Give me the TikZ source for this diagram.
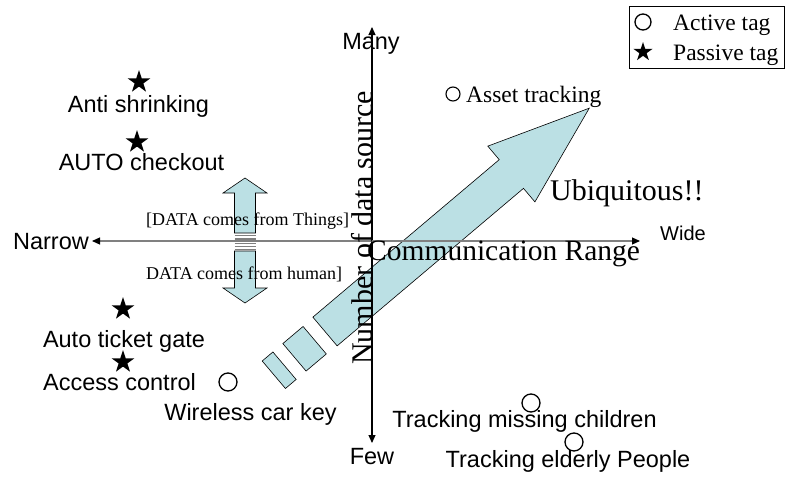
\documentclass[tikz,border=0pt]{standalone}
\usepackage{fontspec}
\setmainfont{Liberation Serif}
\newfontfamily\arialfont{Liberation Sans}
\usetikzlibrary{shapes.geometric,arrows.meta}
\definecolor{arrowfill}{RGB}{187,224,228}
\definecolor{axisgray}{RGB}{128,128,128}
\tikzset{
  sanslabel/.style={font=\arialfont\fontsize{23.5}{28}\selectfont, inner sep=0pt},
  seriflabel/.style={font=\fontsize{23.5}{28}\selectfont, inner sep=0pt},
  smallserif/.style={font=\fontsize{18}{22}\selectfont, inner sep=0pt},
  bigserif/.style={font=\fontsize{30}{36}\selectfont, inner sep=0pt},
  activetag/.style={circle, draw=black, line width=1.3pt, minimum size=18pt, inner sep=0pt},
  passivetag/.style={star, star points=5, star point ratio=2.618, fill=black, minimum size=24pt, inner sep=0pt},
  blockarrow/.style={fill=arrowfill, draw=black, line width=0.6pt},
  axistip/.style={-{Triangle[length=8pt,width=7pt,color=black]}},
}
\begin{document}
\begin{tikzpicture}[x=1pt,y=-1pt]
\useasboundingbox (0,0) rectangle (790,482);

% double arrow between "Things" and "human"
\draw[blockarrow] (234.5,233) -- (234.5,193) -- (223,193) -- (245,178) -- (267,193)
  -- (255.5,193) -- (255.5,233) -- cycle;
\draw[blockarrow] (234.5,251) -- (234.5,288) -- (223,288) -- (245,303) -- (267,288)
  -- (255.5,288) -- (255.5,251) -- cycle;
\foreach \yy in {235.5,238,239.8,241.6,243.4,246.5,249}
  \draw[axisgray, line width=0.8pt] (234.5,\yy) -- (255.5,\yy);

% big diagonal arrow with two trailing blocks
\begin{scope}[shift={(325,331.5)}, rotate=40.2]
  \draw[blockarrow] (0,-18.8) -- (244,-18.8) -- (244,-36.5) -- (346,0)
    -- (244,36.5) -- (244,18.8) -- (0,18.8) -- cycle;
  \draw[blockarrow] (-40,-18) rectangle (-13.5,18);
  \draw[blockarrow] (-67,-18) rectangle (-53,18);
\end{scope}

% axes
\coordinate (vtop) at (372,27);
\coordinate (vbot) at (372,443);
\coordinate (hleft) at (92,241);
\coordinate (hright) at (640,241);
\coordinate (origin) at (372,241);
\draw[axistip, line width=1.1pt] (origin) -- (vtop);
\draw[axistip, line width=1.1pt] (origin) -- (vbot);
\draw[axistip, axisgray, line width=1.1pt] (origin) -- (hleft);
\draw[axistip, axisgray, line width=1.1pt] (origin) -- (hright);

% axis labels
\node[sanslabel] (many) at (371,44) {Many};
\node[sanslabel] (few) at (372,457) {Few};
\node[sanslabel, anchor=east] (narrow) at (89,242) {Narrow};
\node[sanslabel, font=\arialfont\fontsize{20}{24}\selectfont, anchor=base west] (wide) at (660,240) {Wide};
\node[bigserif, font=\fontsize{29.5}{36}\selectfont, anchor=base west] (range) at (367,260) {Communication Range};
\node[bigserif, rotate=90, anchor=base west] (datasource) at (372,365) {Number of data source};
\node[bigserif, anchor=base west] (ubiq) at (550,200) {Ubiquitous!!};

% data origin notes
\node[smallserif, anchor=base west] (things) at (146,225) {[DATA comes from Things]};
\node[smallserif, anchor=base west] (human) at (146,279) {DATA comes from human]};

% passive tag applications
\node[passivetag] (s1) at (139,82) {};
\node[sanslabel, anchor=base] (antishrink) at (138.5,112) {Anti shrinking};
\node[passivetag] (s2) at (137,142) {};
\node[sanslabel, anchor=base] (checkout) at (141.5,170) {AUTO checkout};
\node[passivetag] (s3) at (123,309) {};
\node[sanslabel, anchor=base] (ticket) at (124,347) {Auto ticket gate};
\node[passivetag] (s4) at (123,362) {};
\node[sanslabel, anchor=base] (access) at (119.5,390) {Access control};

% active tag applications
\node[activetag] (c1) at (228,382) {};
\node[sanslabel, anchor=base] (carkey) at (250.5,420) {Wireless car key};
\node[activetag] (c2) at (531,403) {};
\node[sanslabel, anchor=base] (children) at (524.5,427) {Tracking missing children};
\node[activetag] (c3) at (574,442) {};
\node[sanslabel, anchor=base] (elderly) at (568,467) {Tracking elderly People};
\node[activetag, minimum size=14pt, line width=1.1pt] (c4) at (453,94) {};
\node[seriflabel, anchor=base west] (asset) at (466,102) {Asset tracking};

% legend
\draw[line width=0.8pt] (629,6) rectangle (784,68);
\node[activetag, minimum size=16pt, line width=1.3pt] (legcircle) at (643,22) {};
\node[seriflabel, anchor=base west] (legactive) at (673,30) {Active tag};
\node[passivetag, minimum size=20pt] (legstar) at (643,52) {};
\node[seriflabel, anchor=base west] (legpassive) at (673,60) {Passive tag};
\end{tikzpicture}
\end{document}
